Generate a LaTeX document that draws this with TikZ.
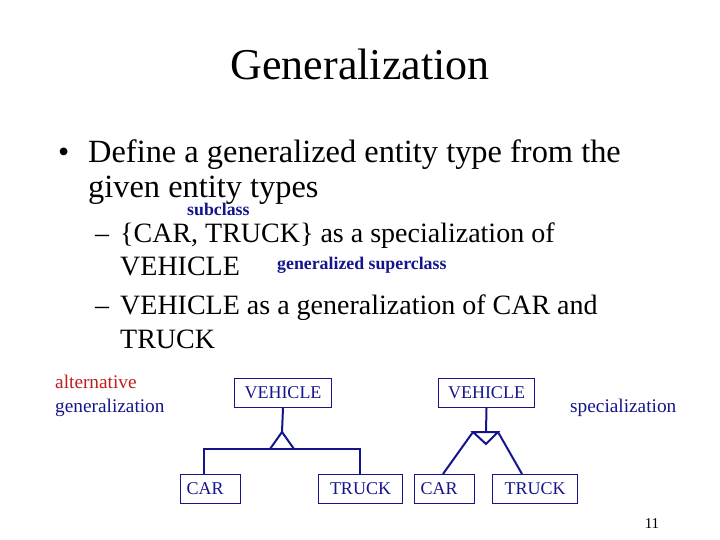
\documentclass[tikz,border=0pt]{standalone}
\usepackage{fontspec}
\setmainfont{Liberation Serif}
\definecolor{navy}{RGB}{20,20,140}
\definecolor{dred}{RGB}{190,30,30}
\begin{document}
\begin{tikzpicture}[x=1pt,y=-1pt,
  bx/.style={draw=navy,line width=1pt,anchor=north west,inner sep=0pt,text=navy,font=\fontsize{16}{18}\selectfont},
  bt/.style={text=navy,font=\fontsize{18}{20}\selectfont},
  ln/.style={draw=navy,line width=2pt},
  lbl/.style={text=navy,font=\bfseries\fontsize{17.8}{19}\selectfont,anchor=base west,inner sep=0pt},
  tx/.style={anchor=base west,inner sep=0pt}]
\useasboundingbox (0,0) rectangle (720,540);
\node[anchor=base,inner sep=0pt,font=\fontsize{44}{48}\selectfont] (title) at (360,80) {Generalization};
\node[tx,font=\fontsize{32}{34}\selectfont] (b) at (58,163) {•};
\node[tx,font=\fontsize{32.4}{34}\selectfont] (l1) at (88,163) {Define a generalized entity type from the};
\node[tx,font=\fontsize{32.4}{34}\selectfont] (l2) at (88,198) {given entity types};
\node[tx,font=\fontsize{28}{30}\selectfont] (d1) at (95,242) {–};
\node[tx,font=\fontsize{28}{30}\selectfont] (l3) at (120,242) {\{CAR, TRUCK\} as a specialization of};
\node[tx,font=\fontsize{28}{30}\selectfont] (l4) at (120,275) {VEHICLE};
\node[tx,font=\fontsize{28}{30}\selectfont] (d2) at (95,314) {–};
\node[tx,font=\fontsize{28}{30}\selectfont] (l5) at (120,314) {VEHICLE as a generalization of CAR and};
\node[tx,font=\fontsize{28}{30}\selectfont] (l6) at (120,348) {TRUCK};
\node[lbl] (sub) at (187,215) {subclass};
\node[lbl] (sup) at (277,269) {generalized superclass};
\node[lbl,text=dred,font=\fontsize{19.3}{20}\selectfont] (alt) at (55,388) {alternative};
\node[lbl,font=\fontsize{19.3}{20}\selectfont] (gen) at (55,412) {generalization};
\node[lbl,font=\fontsize{19.3}{20}\selectfont] (spec) at (570,412) {specialization};
% left diagram
\node[bx,minimum width=97pt,minimum height=29pt] (v1) at (234,378) {};
\node[bt] at (v1.center) {VEHICLE};
\node[bx,minimum width=60pt,minimum height=29pt] (c1) at (180,474) {};
\node[bt,anchor=west] at (c1.west) {\,CAR};
\node[bx,minimum width=84pt,minimum height=29pt] (t1) at (318,474) {};
\node[bt] at (t1.center) {TRUCK};
\coordinate (a1) at (282,432);
\draw[ln] (v1.south) -- (a1);
\draw[ln,line join=miter] (270,449) -- (a1) -- (294,449);
\draw[ln] (c1.north -| 204,0) -- (204,449) -- (360,449) -- (t1.north -| 360,0);
% right diagram
\node[bx,minimum width=96pt,minimum height=29pt] (v2) at (438,378) {};
\node[bt] at (v2.center) {VEHICLE};
\node[bx,minimum width=60pt,minimum height=29pt] (c2) at (414,474) {};
\node[bt,anchor=west] at (c2.west) {\,CAR};
\node[bx,minimum width=85pt,minimum height=29pt] (t2) at (492,474) {};
\node[bt] at (t2.center) {TRUCK};
\draw[ln] (v2.south) -- (486,432);
\draw[ln,line join=miter] (473,432) -- (486,444) -- (498,432) -- cycle;
\draw[ln] (473,432) -- (c2.north -| 443,0);
\draw[ln] (498,432) -- (t2.north -| 522,0);
\node[anchor=base,inner sep=0pt,font=\fontsize{15}{17}\selectfont] (pg) at (652,528) {11};
\end{tikzpicture}
\end{document}
